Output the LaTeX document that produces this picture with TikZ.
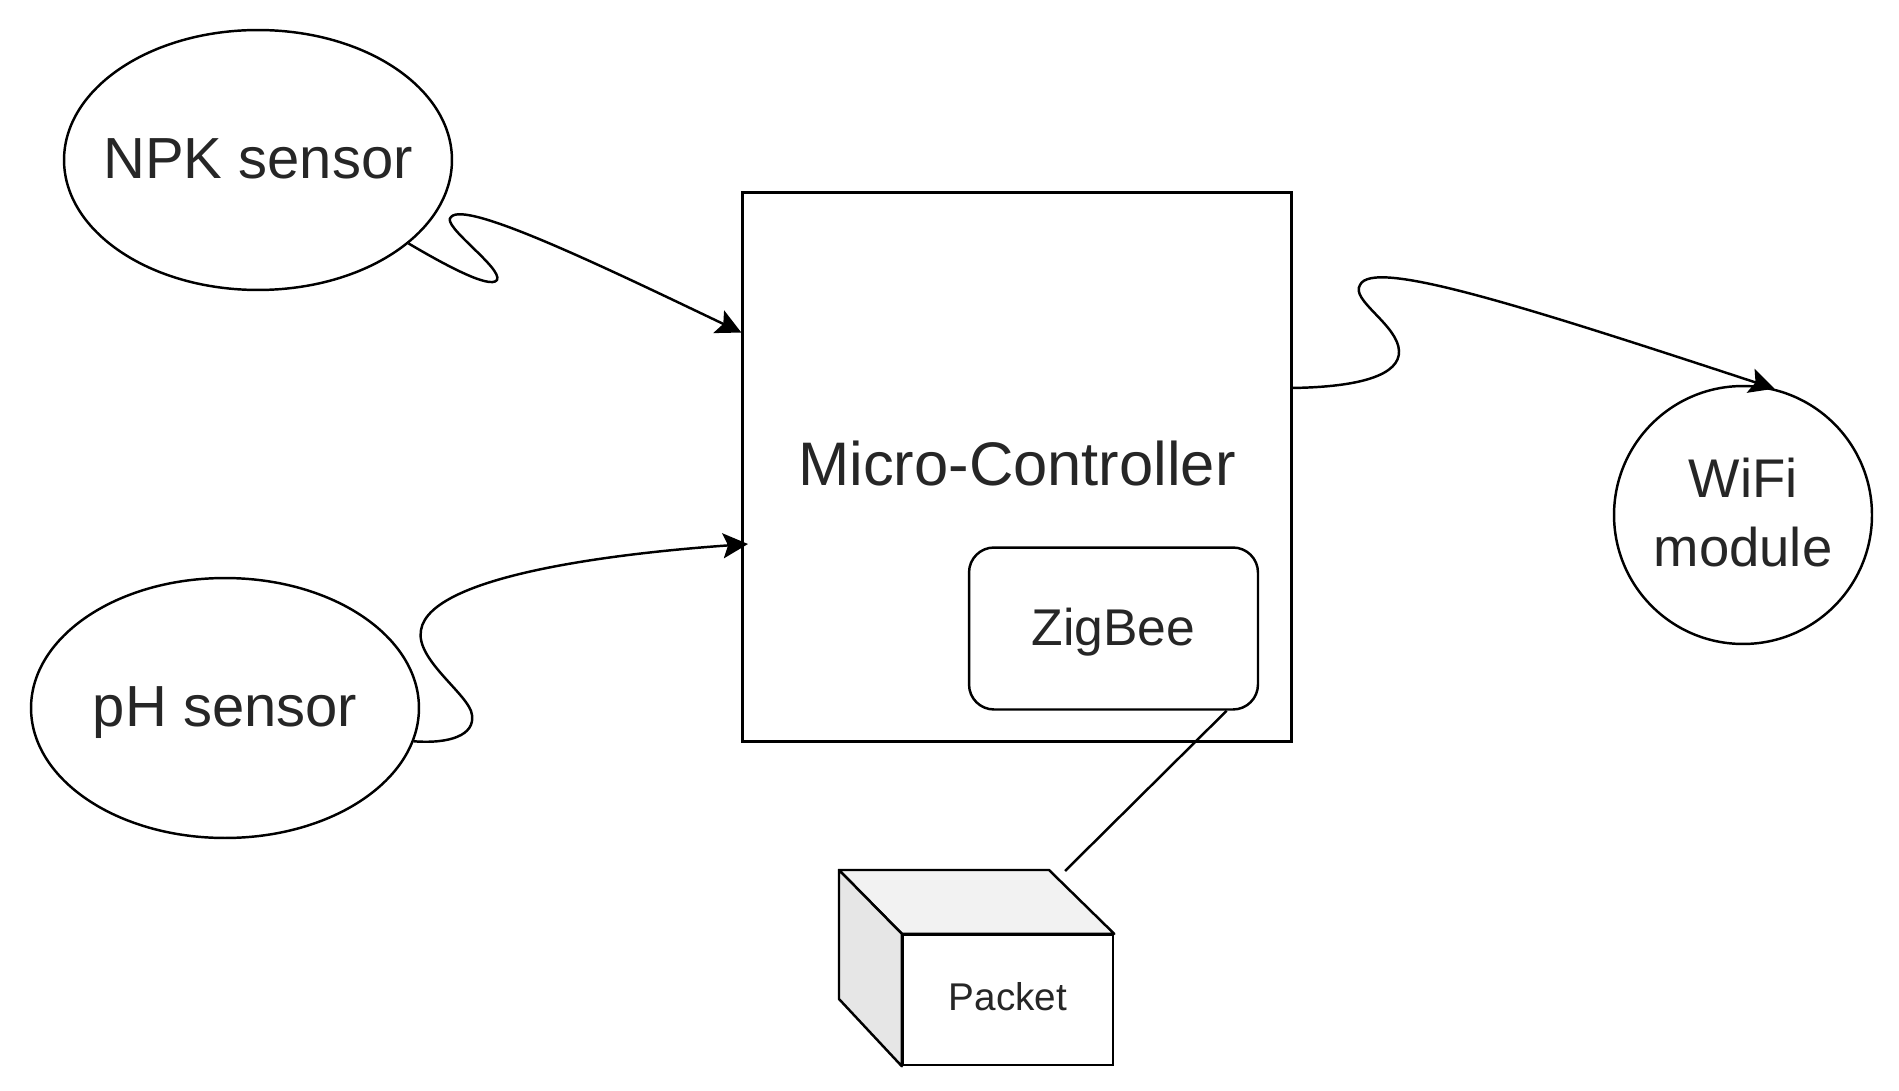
\documentclass[tikz,border=0pt]{standalone}
\usepackage{fontspec}
\setmainfont{Liberation Sans}
\usetikzlibrary{shapes.geometric,arrows.meta}
\definecolor{topface}{HTML}{F2F2F2}
\definecolor{sideface}{HTML}{E6E6E6}
\definecolor{labelcol}{HTML}{262626}
\newcommand{\shiftlabel}[2]{\makebox[0pt]{\raisebox{#1}[0pt][0pt]{#2}}}
\tikzset{
  every node/.style={draw,line width=1.4pt,inner sep=0pt,text=labelcol,align=center},
  sensor/.style={ellipse,minimum width=7.76cm,minimum height=5.2cm,font=\fontsize{33}{39}\selectfont},
  conn/.style={line width=1.4pt,-{Stealth[length=5mm,width=5mm,inset=1mm]}}
}
\begin{document}
\begin{tikzpicture}[x=0.02cm,y=-0.02cm]
\useasboundingbox (0,0) rectangle (1899,1091);
\node[sensor] (NPK) at (258,160) {\shiftlabel{-10.4pt}{NPK sensor}};
\node[sensor] (pH) at (225,708) {\shiftlabel{-10.8pt}{pH sensor}};
\node[minimum width=10.98cm,minimum height=10.98cm,font=\fontsize{35}{40}\selectfont] (Micro) at (1017,467) {\shiftlabel{-10.4pt}{Micro-Controller}};
\node[rectangle,rounded corners=0.5cm,minimum width=5.78cm,minimum height=3.24cm,font=\fontsize{29.4}{35}\selectfont] (ZigBee) at (1113.5,628.5) {\shiftlabel{-9.7pt}{ZigBee}};
\node[circle,minimum size=5.16cm,font=\fontsize{31}{39}\selectfont] (WiFi) at (1743,515) {WiFi\\\raisebox{0pt}[\height][\dimexpr\depth+2.8pt]{module}};
\coordinate (A) at (839,870);
\coordinate (B) at (1049,870);
\coordinate (C) at (839,999);
\node[minimum width=4.2cm,minimum height=2.6cm,font=\fontsize{22}{26}\selectfont] (Packet) at (1008,1000) {\shiftlabel{-6pt}{Packet}};
\draw[line width=1.4pt,line join=round,fill=topface] (A)--(B)--(Packet.north east)--(Packet.north west)--cycle;
\draw[line width=1.4pt,line join=round,fill=sideface] (A)--(Packet.north west)--(Packet.south west)--(C)--cycle;
\coordinate (PacketEnd) at (1065,871);
\coordinate (pHEnd) at (748,544);
\draw[line width=1.4pt] (ZigBee.-36)--(PacketEnd);
\draw[conn] (NPK.-29) .. controls (440,262) and (490,290) .. (497,280)
  .. controls (503,268) and (440,225) .. (451,217)
  .. controls (465,200) and (600,265) .. (Micro.154);
\draw[conn] (pH.-10.5) .. controls (450,744) and (475,735) .. (472,715)
  .. controls (470,695) and (415,660) .. (421,630)
  .. controls (430,575) and (620,553) .. (pHEnd);
\draw[conn] (Micro.16.7) .. controls (1360,387) and (1400,375) .. (1399,351)
  .. controls (1398,325) and (1350,300) .. (1360,285)
  .. controls (1372,258) and (1520,305) .. (WiFi.76);
\end{tikzpicture}
\end{document}
